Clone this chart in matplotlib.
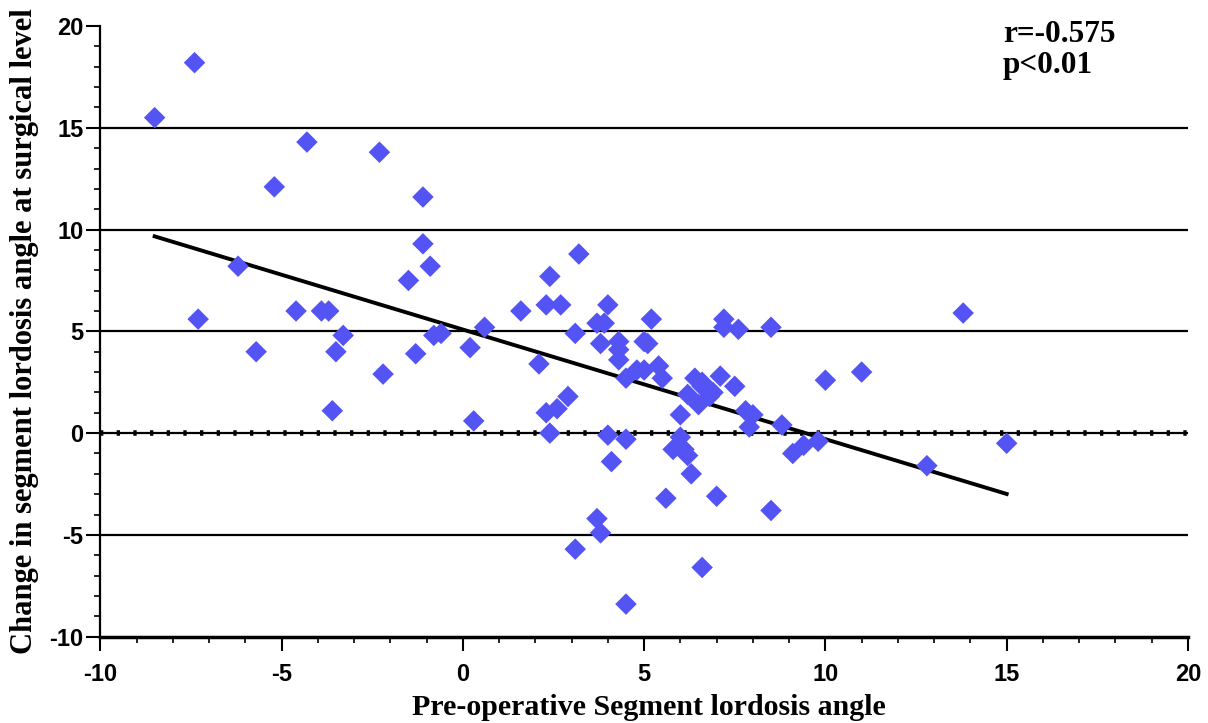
import numpy as np
import matplotlib
matplotlib.use("Agg")
import matplotlib.pyplot as plt
from matplotlib.ticker import MultipleLocator

plt.rcParams['axes.unicode_minus'] = False

# pre-operative segment lordosis angle (x) vs change at surgical level (y)
pre_angle = [
    -8.5, -7.4, -7.3, -6.2, -5.7, -5.2, -4.6, -4.3, -3.9, -3.7,
    -3.3, -3.5, -3.6, -2.3, -2.2, -1.5, -1.3, -1.1, -1.1, -0.9,
    -0.8, -0.6, 0.2, 0.3, 0.6, 1.6, 2.1, 2.3, 2.4, 2.7,
    3.2, 3.1, 3.7, 3.9, 3.8, 4.0, 5.2, 4.3, 4.3, 4.3,
    5.0, 5.1, 4.5, 4.8, 5.0, 5.4, 5.5, 6.4, 6.6, 6.6,
    6.9, 6.8, 6.5, 6.2, 6.0, 7.1, 7.5, 7.2, 7.2, 7.6,
    8.5, 7.8, 8.0, 7.9, 8.8, 10.0, 9.1, 9.4, 9.8, 2.4,
    2.3, 2.6, 2.9, 4.0, 4.5, 4.1, 6.0, 5.8, 6.1, 6.2,
    6.3, 5.6, 7.0, 8.5, 3.7, 3.8, 3.1, 6.6, 4.5, 13.8,
    11.0, 12.8, 15.0,
]
change_angle = [
    15.5, 18.2, 5.6, 8.2, 4.0, 12.1, 6.0, 14.3, 6.0, 6.0,
    4.8, 4.0, 1.1, 13.8, 2.9, 7.5, 3.9, 11.6, 9.3, 8.2,
    4.8, 4.9, 4.2, 0.6, 5.2, 6.0, 3.4, 6.3, 7.7, 6.3,
    8.8, 4.9, 5.4, 5.4, 4.4, 6.3, 5.6, 4.5, 4.1, 3.6,
    4.5, 4.4, 2.7, 3.1, 3.1, 3.3, 2.7, 2.7, 2.5, 2.3,
    2.0, 1.8, 1.4, 1.9, 0.9, 2.8, 2.3, 5.6, 5.2, 5.1,
    5.2, 1.1, 0.9, 0.3, 0.4, 2.6, -1.0, -0.6, -0.4, 0.0,
    1.0, 1.2, 1.8, -0.1, -0.3, -1.4, -0.2, -0.8, -0.8, -1.1,
    -2.0, -3.2, -3.1, -3.8, -4.2, -4.9, -5.7, -6.6, -8.4, 5.9,
    3.0, -1.6, -0.5,
]
r_text = "r=-0.575"
p_text = "p<0.01"

x = np.array(pre_angle)
y = np.array(change_angle)
slope, intercept = np.polyfit(x, y, 1)
fit_x = np.array([x.min(), x.max()])

fig = plt.figure(figsize=(12.08, 7.23), dpi=100)
ax = fig.add_axes([0.083, 0.1194, 0.9004, 0.8446])

for gy in [-5, 5, 10, 15]:
    ax.axhline(gy, color="black", lw=1.6, zorder=1)
ax.axhline(0, color="black", lw=1.6, zorder=1)
ax.axhline(0, color="black", lw=4, ls=(0, (0.6, 2.4)), zorder=1)

ax.plot(fit_x, slope * fit_x + intercept, color="black", lw=2.8, zorder=2)
ax.scatter(x, y, marker="D", s=120, color="#5454F4", edgecolors="none", zorder=3)

ax.set_xlim(-10, 20)
ax.set_ylim(-10, 20)
ax.xaxis.set_major_locator(MultipleLocator(5))
ax.xaxis.set_minor_locator(MultipleLocator(1))
ax.yaxis.set_major_locator(MultipleLocator(5))
ax.yaxis.set_minor_locator(MultipleLocator(1))
ax.tick_params(which="major", direction="out", length=10, width=1.5)
ax.tick_params(which="minor", direction="out", length=4.5, width=1.2)
ax.tick_params(axis="x", which="major", pad=9)
ax.tick_params(axis="y", which="major", pad=2)
for lab in ax.get_xticklabels() + ax.get_yticklabels():
    lab.set_fontfamily("Liberation Sans")
    lab.set_fontweight("bold")
    lab.set_fontsize(17)

ax.spines["top"].set_visible(False)
ax.spines["right"].set_visible(False)
ax.spines["left"].set_linewidth(1.6)
ax.spines["bottom"].set_linewidth(2.5)

ax.set_xlabel("Pre-operative Segment lordosis angle", family="Liberation Serif",
              fontweight="bold", fontsize=21.5)
ax.xaxis.set_label_coords(0.504, -0.129)
ax.xaxis.label.set_va("baseline")
ax.set_ylabel("Change in segment lordosis angle at surgical level", family="Liberation Serif",
              fontweight="bold", fontsize=22)
ax.yaxis.set_label_coords(-0.056, 0.5)

ax.text(14.9, 19.6, r_text, family="Liberation Serif", fontweight="bold", fontsize=22.5,
        va="center", ha="left")
ax.text(14.9, 18.05, p_text, family="Liberation Serif", fontweight="bold", fontsize=22.5,
        va="center", ha="left")

fig.savefig("out.png", dpi=100)
